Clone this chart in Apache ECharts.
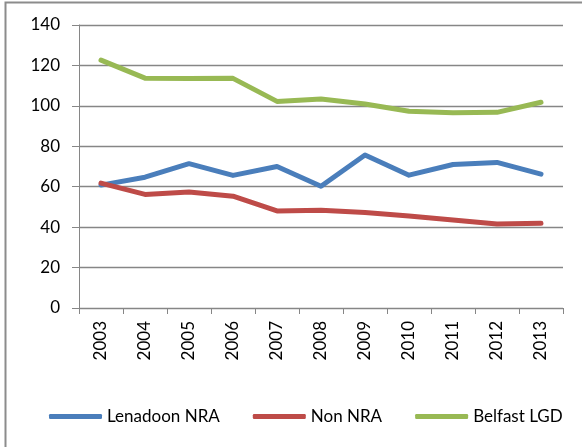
<!DOCTYPE html>
<html>
<head>
<meta charset="utf-8">
<script src="https://cdn.jsdelivr.net/npm/echarts@6/dist/echarts.min.js"></script>
<style>
html,body{margin:0;padding:0;background:#fff;}
#chart{width:582px;height:447px;}
</style>
</head>
<body>
<div id="chart"></div>
<script>
const years = ['2003','2004','2005','2006','2007','2008','2009','2010','2011','2012','2013'];
const lenadoon = [60.8, 64.7, 71.4, 65.6, 70.0, 60.2, 75.7, 65.7, 71.0, 72.0, 66.2];
const nonNra = [61.8, 56.2, 57.4, 55.3, 48.0, 48.4, 47.3, 45.5, 43.5, 41.6, 41.9];
const belfast = [122.6, 113.7, 113.5, 113.6, 102.2, 103.4, 100.9, 97.3, 96.6, 96.8, 101.8];
const yTicks = {min: 0, max: 140, interval: 20};

const FONT = 'Lato';
const chart = echarts.init(document.getElementById('chart'));
chart.setOption({
  animation: false,
  backgroundColor: '#fff',
  graphic: [{
    type: 'rect',
    shape: {x: 5.5, y: 2.5, width: 700, height: 600},
    style: {fill: 'none', stroke: '#8c8c8c', lineWidth: 2},
    silent: true
  }],
  grid: {left: 79, right: 19, top: 25, bottom: 139, containLabel: false},
  xAxis: {
    type: 'category',
    data: years,
    boundaryGap: true,
    axisLine: {lineStyle: {color: '#868686', width: 1}},
    axisTick: {show: true, alignWithLabel: false, length: 6, lineStyle: {color: '#868686'}},
    axisLabel: {rotate: 90, margin: 13, color: '#000', fontFamily: FONT, fontSize: 17}
  },
  yAxis: {
    type: 'value',
    min: yTicks.min, max: yTicks.max, interval: yTicks.interval,
    axisLine: {show: true, lineStyle: {color: '#868686', width: 1}},
    axisTick: {show: true, length: 7, lineStyle: {color: '#868686'}},
    splitLine: {show: true, lineStyle: {color: '#868686', width: 1.3}},
    axisLabel: {margin: 19, color: '#000', fontFamily: FONT, fontSize: 17}
  },
  legend: {
    left: 44, top: 403,
    itemWidth: 53, itemHeight: 5, itemGap: 33,
    icon: 'roundRect',
    textStyle: {color: '#000', fontFamily: FONT, fontSize: 17},
    data: ['Lenadoon NRA', 'Non NRA', 'Belfast LGD']
  },
  series: [
    {name: 'Lenadoon NRA', type: 'line', data: lenadoon, showSymbol: false, symbol: 'none',
     lineStyle: {color: '#4A7EBB', width: 5, cap: 'round', join: 'round'}, itemStyle: {color: '#4A7EBB'}},
    {name: 'Non NRA', type: 'line', data: nonNra, showSymbol: false, symbol: 'none',
     lineStyle: {color: '#BE4B48', width: 5, cap: 'round', join: 'round'}, itemStyle: {color: '#BE4B48'}},
    {name: 'Belfast LGD', type: 'line', data: belfast, showSymbol: false, symbol: 'none',
     lineStyle: {color: '#98B954', width: 5, cap: 'round', join: 'round'}, itemStyle: {color: '#98B954'}}
  ]
});
</script>
</body>
</html>
